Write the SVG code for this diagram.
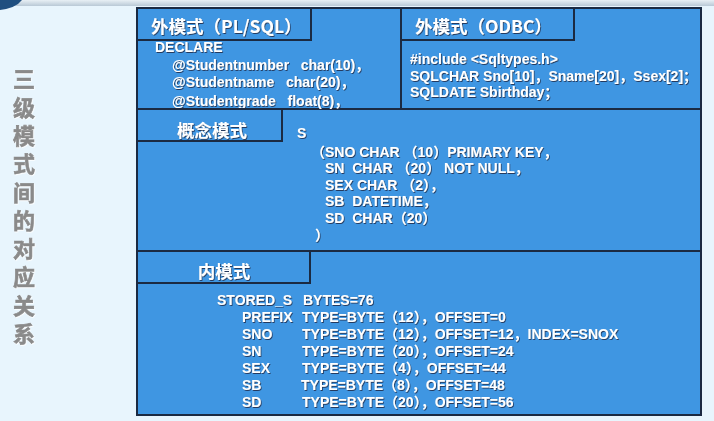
<svg xmlns="http://www.w3.org/2000/svg" width="714" height="421" viewBox="0 0 714 421">
<defs>
<linearGradient id="topg" x1="0" y1="0" x2="0" y2="1">
<stop offset="0" stop-color="#e8f0f5"/>
<stop offset="1" stop-color="#b9c9d6"/>
</linearGradient>
<filter id="sh" x="-10%" y="-30%" width="120%" height="160%">
<feDropShadow dx="0.8" dy="1" stdDeviation="0.6" flood-color="#1c2c48" flood-opacity="0.85"/>
</filter>
<filter id="sh2" x="-30%" y="-10%" width="160%" height="120%">
<feDropShadow dx="0.6" dy="0.8" stdDeviation="0.5" flood-color="#ffffff" flood-opacity="1"/>
</filter>
</defs>
<style>
.panel{fill:#3f96e2;stroke:#1b2a42;stroke-width:2}
.lbl{fill:#3f96e2;stroke:#1b2a42;stroke-width:2}
.div{stroke:#1b2a42;stroke-width:2;fill:none}
.h{font-family:"Noto Sans CJK SC","Liberation Sans",sans-serif;font-weight:bold;font-size:17.5px;fill:#ffffff;filter:url(#sh)}
.t{font-family:"Liberation Sans","Noto Sans CJK SC",sans-serif;font-weight:bold;font-size:14px;fill:#ffffff;filter:url(#sh)}
.v{font-family:"Noto Sans CJK SC",sans-serif;font-weight:bold;font-size:22px;fill:#8a8a8a;stroke:#8a8a8a;stroke-width:0.7;filter:url(#sh2);writing-mode:tb;letter-spacing:6.3px}
</style>
<rect x="0" y="0" width="714" height="421" fill="#e8f5fd"/>
<rect x="0" y="0" width="714" height="6" fill="url(#topg)"/>
<path d="M0,0 L22,0 Q16,8 0,10 Z" fill="#1f4f80"/>

<g id="title">
<text class="v" x="24" y="68">三级模式间的对应关系</text>
</g>

<g id="frame">
<rect class="panel" x="137" y="8" width="564" height="407"/>
<line class="div" x1="137" y1="109" x2="701" y2="109"/>
<line class="div" x1="401" y1="8" x2="401" y2="109"/>
<line class="div" x1="137" y1="251" x2="701" y2="251"/>
</g>

<g id="ext-plsql">
<rect class="lbl" x="137" y="8" width="174" height="32"/>
<text class="h" x="151" y="33">外模式（PL/SQL）</text>
<text class="t" x="155" y="52">DECLARE</text>
<text class="t" x="172" y="70" xml:space="preserve">@Studentnumber   char(10)，</text>
<text class="t" x="172" y="86.5" xml:space="preserve">@Studentname   char(20)，</text>
<text class="t" x="172" y="105.5" xml:space="preserve">@Studentgrade   float(8)，</text>
</g>

<g id="ext-odbc">
<rect class="lbl" x="401" y="8" width="173" height="32"/>
<text class="h" x="415" y="33">外模式（ODBC）</text>
<text class="t" x="410" y="64">#include &lt;Sqltypes.h&gt;</text>
<text class="t" x="410" y="81">SQLCHAR Sno[10]，Sname[20]，Ssex[2]；</text>
<text class="t" x="410" y="97">SQLDATE Sbirthday；</text>
</g>

<g id="conceptual">
<rect class="lbl" x="137" y="109" width="145" height="32"/>
<text class="h" x="212" y="137" text-anchor="middle">概念模式</text>
<text class="t" x="297" y="138">S</text>
<text class="t" x="311" y="157" xml:space="preserve">（SNO CHAR （10）PRIMARY KEY，</text>
<text class="t" x="325" y="173" xml:space="preserve">SN  CHAR （20） NOT NULL，</text>
<text class="t" x="325" y="190" xml:space="preserve">SEX CHAR （2），</text>
<text class="t" x="325" y="206" xml:space="preserve">SB  DATETIME，</text>
<text class="t" x="325" y="223" xml:space="preserve">SD  CHAR（20）</text>
<text class="t" x="315" y="240">）</text>
</g>

<g id="internal">
<rect class="lbl" x="137" y="251" width="173" height="32"/>
<text class="h" x="224" y="278" text-anchor="middle">内模式</text>
<text class="t" x="217" y="305">STORED_S</text><text class="t" x="303" y="305">BYTES=76</text>
<text class="t" x="242" y="322">PREFIX</text><text class="t" x="302" y="322">TYPE=BYTE（12），OFFSET=0</text>
<text class="t" x="242" y="339">SNO</text><text class="t" x="302" y="339">TYPE=BYTE（12），OFFSET=12，INDEX=SNOX</text>
<text class="t" x="242" y="356">SN</text><text class="t" x="302" y="356">TYPE=BYTE（20），OFFSET=24</text>
<text class="t" x="242" y="373">SEX</text><text class="t" x="302" y="373">TYPE=BYTE（4），OFFSET=44</text>
<text class="t" x="242" y="390">SB</text><text class="t" x="301" y="390">TYPE=BYTE（8），OFFSET=48</text>
<text class="t" x="242" y="407">SD</text><text class="t" x="302" y="407">TYPE=BYTE（20），OFFSET=56</text>
</g>
</svg>
